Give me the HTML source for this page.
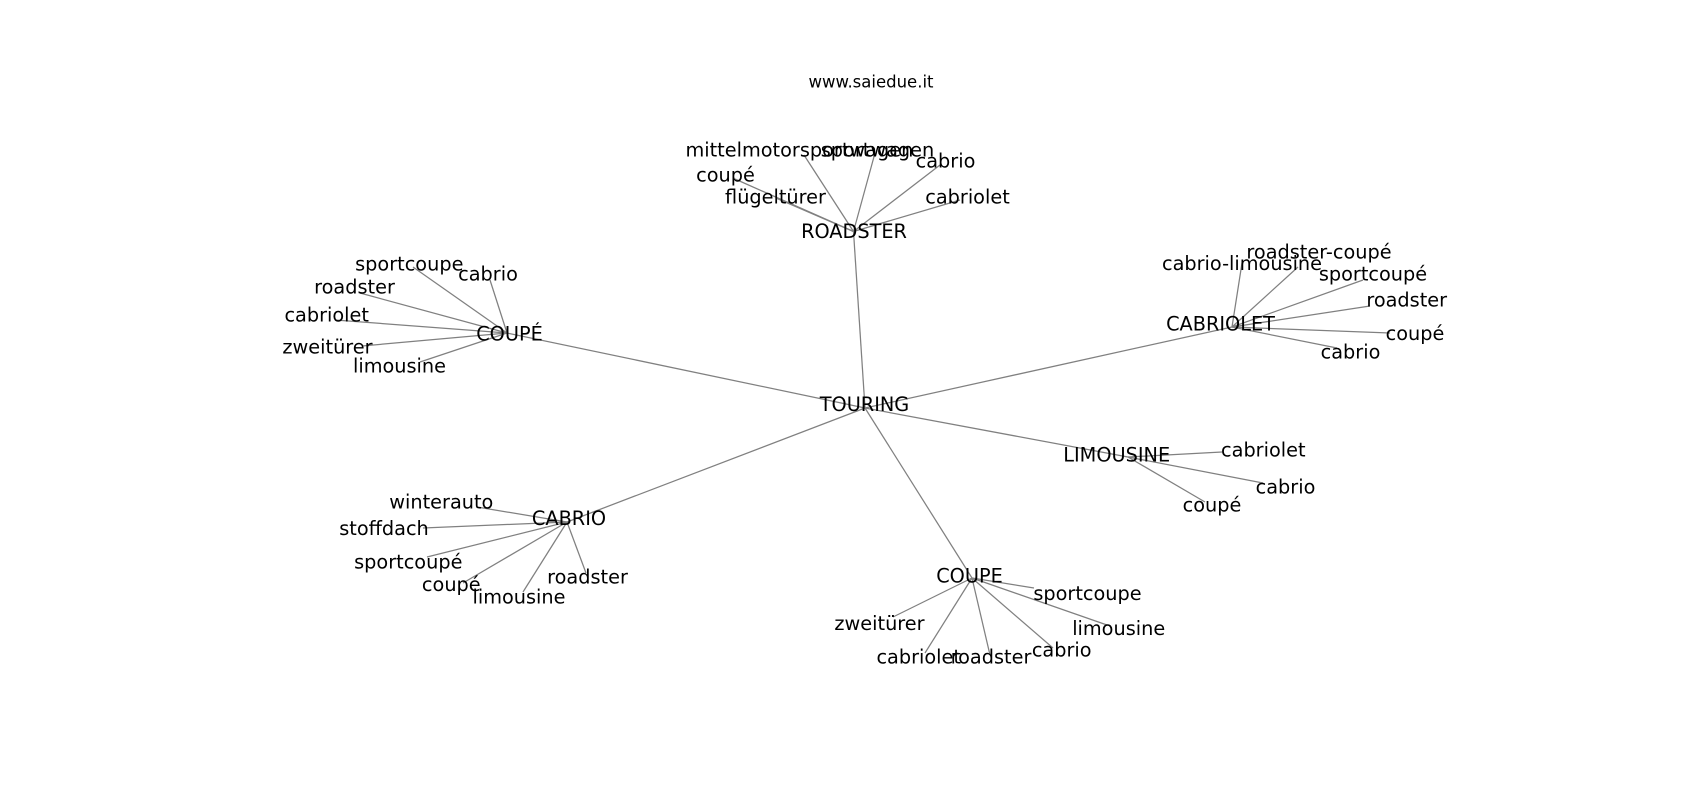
<!DOCTYPE html>
<html>
<head>
<meta charset="utf-8">
<style>
html,body{margin:0;padding:0;background:#fff;}
svg{display:block;}
text{font-family:"DejaVu Sans","Liberation Sans",sans-serif;fill:#000;}
.l{font-size:19.3px;text-anchor:middle;}
.t{font-size:16.5px;text-anchor:middle;}
line{stroke:#808080;stroke-width:1.25;}
</style>
</head>
<body>
<svg width="1700" height="800" viewBox="0 0 1700 800" xmlns="http://www.w3.org/2000/svg">
<rect width="1700" height="800" fill="#fff"/>
<g>
<!-- hub edges -->
<line x1="865" y1="408" x2="853.5" y2="231.5"/>
<line x1="865" y1="408" x2="507" y2="333"/>
<line x1="865" y1="408" x2="1232" y2="327"/>
<line x1="865" y1="408" x2="1128" y2="457"/>
<line x1="865" y1="408" x2="972" y2="578"/>
<line x1="865" y1="408" x2="567" y2="522"/>
<!-- ROADSTER -->
<line x1="853.5" y1="231.5" x2="804" y2="155"/>
<line x1="853.5" y1="231.5" x2="875" y2="153"/>
<line x1="853.5" y1="231.5" x2="940" y2="165"/>
<line x1="853.5" y1="231.5" x2="960" y2="200"/>
<line x1="853.5" y1="231.5" x2="735" y2="179"/>
<line x1="853.5" y1="231.5" x2="776" y2="198"/>
<!-- COUPÉ -->
<line x1="507" y1="333" x2="413" y2="267"/>
<line x1="507" y1="333" x2="490" y2="280"/>
<line x1="507" y1="333" x2="360" y2="293"/>
<line x1="507" y1="333" x2="335" y2="320"/>
<line x1="507" y1="333" x2="362" y2="346"/>
<line x1="507" y1="333" x2="420" y2="362"/>
<!-- CABRIOLET -->
<line x1="1232" y1="327" x2="1242" y2="263"/>
<line x1="1232" y1="327" x2="1298" y2="267"/>
<line x1="1232" y1="327" x2="1363" y2="280"/>
<line x1="1232" y1="327" x2="1370" y2="306"/>
<line x1="1232" y1="327" x2="1390" y2="333"/>
<line x1="1232" y1="327" x2="1337" y2="348"/>
<!-- LIMOUSINE -->
<line x1="1128" y1="457" x2="1222" y2="452"/>
<line x1="1128" y1="457" x2="1263" y2="483"/>
<line x1="1128" y1="457" x2="1205" y2="502"/>
<!-- CABRIO -->
<line x1="567" y1="522" x2="477" y2="507"/>
<line x1="567" y1="522" x2="423" y2="528"/>
<line x1="567" y1="522" x2="427" y2="557"/>
<line x1="567" y1="522" x2="463" y2="583"/>
<line x1="567" y1="522" x2="523" y2="592"/>
<line x1="567" y1="522" x2="586" y2="573"/>
<!-- COUPE -->
<line x1="972" y1="578" x2="1034" y2="588"/>
<line x1="972" y1="578" x2="1107" y2="625"/>
<line x1="972" y1="578" x2="893" y2="617"/>
<line x1="972" y1="578" x2="925" y2="653"/>
<line x1="972" y1="578" x2="990" y2="655"/>
<line x1="972" y1="578" x2="1053" y2="648"/>
</g>

<text class="t" x="871" y="87.7">www.saiedue.it</text>

<text class="l" x="864.5" y="411">TOURING</text>

<text class="l" x="854" y="238">ROADSTER</text>
<text class="l" x="799.4" y="156.7">mittelmotorsportwagen</text>
<text class="l" x="877.5" y="156.7">sportwagen</text>
<text class="l" x="725.5" y="181.7">coupé</text>
<text class="l" x="775.5" y="203.3">flügeltürer</text>
<text class="l" x="945.5" y="167.7">cabrio</text>
<text class="l" x="967.5" y="203.3">cabriolet</text>

<text class="l" x="509.5" y="340.7">COUPÉ</text>
<text class="l" x="409.3" y="270.7">sportcoupe</text>
<text class="l" x="488" y="280.7">cabrio</text>
<text class="l" x="354.5" y="293.3">roadster</text>
<text class="l" x="326.7" y="321.7">cabriolet</text>
<text class="l" x="327.5" y="353.3">zweitürer</text>
<text class="l" x="399.5" y="372.7">limousine</text>

<text class="l" x="1220.5" y="330.7">CABRIOLET</text>
<text class="l" x="1242" y="270">cabrio-limousine</text>
<text class="l" x="1319" y="258.3">roadster-coupé</text>
<text class="l" x="1373" y="280.7">sportcoupé</text>
<text class="l" x="1406.7" y="306.7">roadster</text>
<text class="l" x="1415" y="340">coupé</text>
<text class="l" x="1350.5" y="358.3">cabrio</text>

<text class="l" x="1116.7" y="461.7">LIMOUSINE</text>
<text class="l" x="1263.3" y="456.7">cabriolet</text>
<text class="l" x="1285.5" y="493.3">cabrio</text>
<text class="l" x="1212" y="511.7">coupé</text>

<text class="l" x="569" y="525">CABRIO</text>
<text class="l" x="441.3" y="508.3">winterauto</text>
<text class="l" x="384" y="535">stoffdach</text>
<text class="l" x="408.3" y="568.3">sportcoupé</text>
<text class="l" x="451.3" y="591">coupé</text>
<text class="l" x="519" y="603.3">limousine</text>
<text class="l" x="587.5" y="583.3">roadster</text>

<text class="l" x="969.5" y="582.5">COUPE</text>
<text class="l" x="1087.5" y="600">sportcoupe</text>
<text class="l" x="1118.7" y="635">limousine</text>
<text class="l" x="879.5" y="630">zweitürer</text>
<text class="l" x="918.7" y="663.3">cabriolet</text>
<text class="l" x="991" y="663.3">roadster</text>
<text class="l" x="1061.7" y="656.7">cabrio</text>
</svg>
</body>
</html>
